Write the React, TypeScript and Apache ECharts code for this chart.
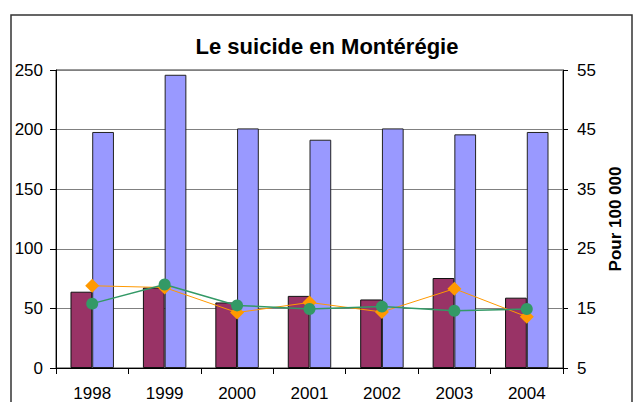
import React, { useEffect, useRef } from "react";
import * as echarts from "echarts";

const years = ["1998", "1999", "2000", "2001", "2002", "2003", "2004"];
const barsMaroon = [64, 67.5, 55, 60.5, 57.5, 75.5, 59];
const barsBlue = [198, 246, 201, 191.5, 201, 196, 198];
const rateOrange = [18.8, 18.5, 14.3, 16.0, 14.4, 18.3, 13.6];
const rateGreen = [15.8, 19.0, 15.5, 14.9, 15.3, 14.6, 14.9];

const FONT = "'Liberation Sans', Arial, sans-serif";

export default function App() {
  const ref = useRef<HTMLDivElement>(null);
  useEffect(() => {
    if (!ref.current) return;
    const chart = echarts.init(ref.current, undefined, { renderer: "svg" });
    chart.setOption({
      animation: false,
      backgroundColor: "#ffffff",
      textStyle: { fontFamily: FONT },
      title: {
        text: "Le suicide en Montérégie",
        left: 322,
        top: 30,
        textAlign: "center",
        textStyle: { fontFamily: FONT, fontSize: 22, fontWeight: "bold", color: "#000" },
      },
      graphic: [
        {
          type: "rect",
          silent: true,
          z: -1,
          shape: { x: 11, y: 15, width: 621, height: 430 },
          style: { fill: "none", stroke: "#333", lineWidth: 1.5 },
        },
      ],
      grid: {
        left: 56,
        right: 71,
        top: 70,
        bottom: 33,
        show: true,
        borderColor: "#333",
        borderWidth: 1,
        backgroundColor: "transparent",
      },
      xAxis: {
        type: "category",
        data: years,
        axisLine: { lineStyle: { color: "#000", width: 1 } },
        axisTick: { show: true, length: 6, lineStyle: { color: "#000" } },
        axisLabel: { color: "#000", fontSize: 17, fontFamily: FONT, margin: 17 },
      },
      yAxis: [
        {
          type: "value",
          min: 0,
          max: 250,
          interval: 50,
          axisLine: { show: true, lineStyle: { color: "#000", width: 1 } },
          axisTick: { show: true, length: 6, lineStyle: { color: "#000" } },
          axisLabel: { color: "#000", fontSize: 17, fontFamily: FONT, margin: 13 },
          splitLine: { show: true, lineStyle: { color: "#808080", width: 1 } },
        },
        {
          type: "value",
          position: "right",
          min: 5,
          max: 55,
          interval: 10,
          name: "Pour 100 000",
          nameLocation: "middle",
          nameRotate: 90,
          nameGap: 44,
          nameTextStyle: { color: "#000", fontSize: 17, fontWeight: "bold", fontFamily: FONT },
          axisLine: { show: true, lineStyle: { color: "#000", width: 1 } },
          axisTick: { show: true, length: 5, lineStyle: { color: "#000" } },
          axisLabel: { color: "#000", fontSize: 17, fontFamily: FONT, margin: 14 },
          splitLine: { show: false },
        },
      ],
      series: [
        {
          name: "Femmes",
          type: "bar",
          yAxisIndex: 0,
          data: barsMaroon,
          barGap: "0%",
          barCategoryGap: "40%",
          itemStyle: { color: "#993366", borderColor: "#111", borderWidth: 1 },
        },
        {
          name: "Hommes",
          type: "bar",
          yAxisIndex: 0,
          data: barsBlue,
          barGap: "0%",
          barCategoryGap: "40%",
          itemStyle: { color: "#9999FF", borderColor: "#222", borderWidth: 1 },
        },
        {
          name: "Taux A",
          type: "line",
          yAxisIndex: 1,
          data: rateOrange,
          symbol: "diamond",
          symbolSize: 14,
          lineStyle: { color: "#FF9900", width: 1 },
          itemStyle: { color: "#FF9900" },
          z: 3,
        },
        {
          name: "Taux B",
          type: "line",
          yAxisIndex: 1,
          data: rateGreen,
          symbol: "circle",
          symbolSize: 12,
          lineStyle: { color: "#339966", width: 1.5 },
          itemStyle: { color: "#339966" },
          z: 4,
        },
      ],
    });
    return () => chart.dispose();
  }, []);
  return (
    <div
      ref={ref}
      style={{ position: "absolute", left: 0, top: 0, width: 634, height: 402 }}
    />
  );
}
